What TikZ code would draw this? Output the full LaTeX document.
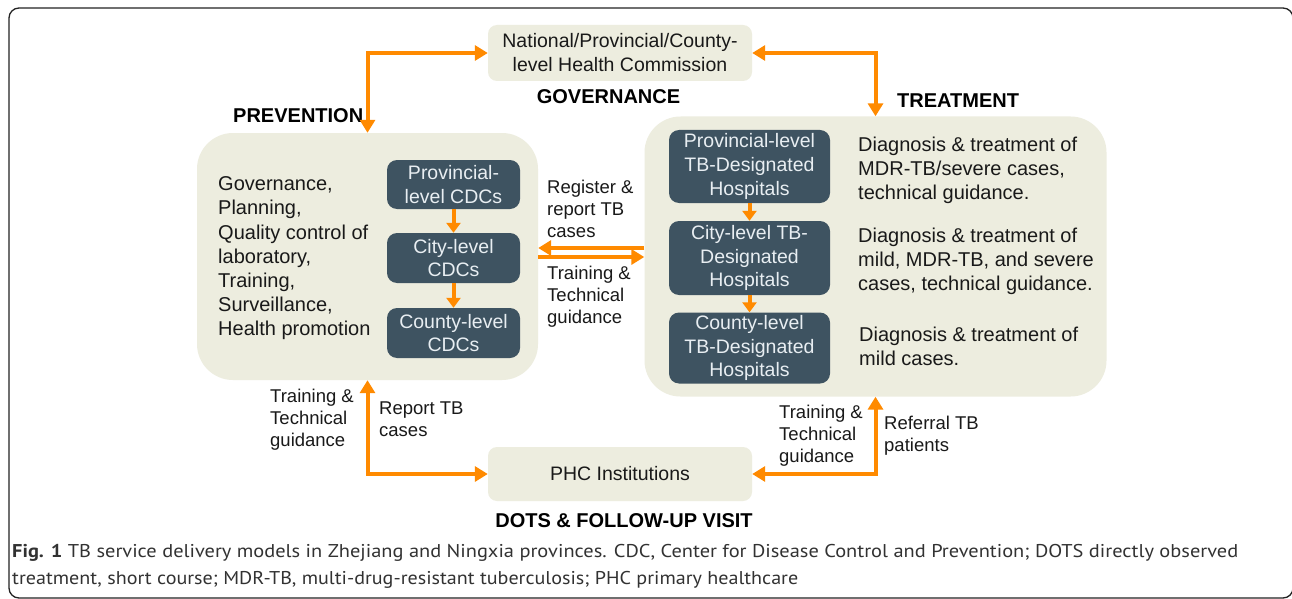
\documentclass[tikz,border=0pt]{standalone}
\usepackage{fontspec}
\usepackage{graphicx}
\setmainfont{Liberation Sans}
\newfontfamily\capfont{PT Sans}
\usetikzlibrary{arrows.meta}

\definecolor{beige}{RGB}{237,237,223}
\definecolor{slate}{RGB}{62,83,97}
\definecolor{boxtxt}{RGB}{232,238,242}
\definecolor{flowor}{RGB}{255,138,0}
\definecolor{txt}{RGB}{25,25,25}
\definecolor{captxt}{RGB}{50,50,50}
\definecolor{framegray}{RGB}{35,35,35}

\tikzset{
  bigpanel/.style={fill=beige, rounded corners=36pt, inner sep=0pt},
  lightpanel/.style={fill=beige, rounded corners=9pt, inner sep=0pt, align=center,
    text=txt, font=\fontsize{19.5}{24}\selectfont},
  darkpanel/.style={fill=slate, rounded corners=10pt, inner sep=0pt, align=center,
    text=boxtxt, font=\fontsize{19.5}{23.6}\selectfont},
  bodytext/.style={inner sep=0pt, align=left, anchor=north west, text=txt,
    font=\fontsize{20}{24.2}\selectfont},
  notetext/.style={inner sep=0pt, align=left, anchor=north west, text=txt,
    font=\fontsize{18.5}{21.8}\selectfont},
  headtext/.style={inner sep=0pt, text=black, font=\bfseries\fontsize{20}{24}\selectfont},
  twoway/.style={draw=flowor, line width=4pt,
    {Triangle[length=13pt,width=15pt]}-{Triangle[length=13pt,width=15pt]}},
  oneway/.style={draw=flowor, line width=4pt, -{Triangle[length=13pt,width=15pt]}},
  shortway/.style={draw=flowor, line width=4pt, -{Triangle[length=10pt,width=14pt]}},
}

\begin{document}
\begin{tikzpicture}[x=1pt,y=-1pt]
\useasboundingbox (0,0) rectangle (1292,599);
\fill[white] (0,0) rectangle (1292,599);
\begin{scope}
  \clip (0,0) rectangle (1292,599);
  \draw[framegray, line width=1.3pt, rounded corners=10pt] (9,8) rectangle (1293,598);
\end{scope}

% governance and primary care boxes
\node[lightpanel, minimum width=264pt, minimum height=56pt] (gov) at (620,53)
  {National/Provincial/County-\\level Health Commission};
\node[lightpanel, minimum width=264pt, minimum height=54pt] (phc) at (620,474)
  {PHC Institutions};

% prevention and treatment panels
\node[bigpanel, minimum width=341pt, minimum height=247pt] (lbig) at (367.5,256.5) {};
\node[bigpanel, minimum width=462pt, minimum height=280pt] (rbig) at (875.5,256.5) {};

% CDC chain
\node[darkpanel, minimum width=133pt, minimum height=49pt] (lprov) at (453.5,184.5)
  {Provincial-\\level CDCs};
\node[darkpanel, minimum width=133pt, minimum height=50pt] (lcity) at (453.5,258)
  {City-level\\CDCs};
\node[darkpanel, minimum width=133pt, minimum height=50pt] (lcounty) at (453.5,333)
  {County-level\\CDCs};

% hospital chain
\node[darkpanel, minimum width=161pt, minimum height=73pt] (rprov) at (749.5,166.5)
  {Provincial-level\\TB-Designated\\Hospitals};
\node[darkpanel, minimum width=161pt, minimum height=74pt] (rcity) at (749.5,258)
  {City-level TB-\\Designated\\Hospitals};
\node[darkpanel, minimum width=161pt, minimum height=71pt] (rcounty) at (749.5,348)
  {County-level\\TB-Designated\\Hospitals};

% panel texts
\node[bodytext] (ltext) at (218,176.5)
  {Governance,\\Planning,\\Quality control of\\laboratory,\\Training,\\Surveillance,\\Health promotion};
\node[bodytext] (rt1) at (858,136.5)
  {Diagnosis \& treatment of\\MDR-TB/severe cases,\\technical guidance.};
\node[bodytext] (rt2) at (858,227.5)
  {Diagnosis \& treatment of\\mild, MDR-TB, and severe\\cases, technical guidance.};
\node[bodytext] (rt3) at (859,326.5)
  {Diagnosis \& treatment of\\mild cases.};

% headings
\node[headtext, anchor=base] (hgov) at (608.5,104) {GOVERNANCE};
\node[headtext, anchor=base west] (hprev) at (233,122) {PREVENTION};
\node[headtext, anchor=base west] (htreat) at (897,107) {TREATMENT};
\node[headtext, anchor=base] (hdots) at (624,527) {DOTS \& FOLLOW-UP VISIT};

% connector notes
\node[notetext] (n1) at (547,179.8) {Register \&\\report TB\\cases};
\node[notetext] (n2) at (547,265.8) {Training \&\\Technical\\guidance};
\node[notetext] (n3) at (270,388.8) {Training \&\\Technical\\guidance};
\node[notetext] (n4) at (379,401.8) {Report TB\\cases};
\node[notetext] (n5) at (779,404.8) {Training \&\\Technical\\guidance};
\node[notetext] (n6) at (884,415.8) {Referral TB\\patients};

% connectors
\draw[twoway] (gov.west) -| (lbig.north);
\draw[twoway] (gov.east) -| (rbig.north);
\draw[twoway] (lbig.south) |- (phc.west);
\draw[twoway] (rbig.south) |- (phc.east);
\draw[oneway] ([yshift=8.5pt]rbig.west) -- ([yshift=8.5pt]lbig.east);
\draw[oneway] ([yshift=-0.5pt]lbig.east) -- ([yshift=-0.5pt]rbig.west);
\draw[shortway] (lprov.south) -- (lcity.north);
\draw[shortway] (lcity.south) -- (lcounty.north);
\draw[shortway] (rprov.south) -- (rcity.north);
\draw[shortway] (rcity.south) -- (rcounty.north);

% caption
\node[anchor=base west, inner sep=0pt, text=captxt] (cap1) at (12,557)
  {\resizebox{1226pt}{\height}{\capfont\fontsize{18.5}{22}\selectfont\textbf{Fig. 1} TB service delivery models in Zhejiang and Ningxia provinces. CDC, Center for Disease Control and Prevention; DOTS directly observed}};
\node[anchor=base west, inner sep=0pt, text=captxt] (cap2) at (12,584)
  {\resizebox{786pt}{\height}{\capfont\fontsize{18.5}{22}\selectfont treatment, short course; MDR-TB, multi-drug-resistant tuberculosis; PHC primary healthcare}};
\end{tikzpicture}
\end{document}
